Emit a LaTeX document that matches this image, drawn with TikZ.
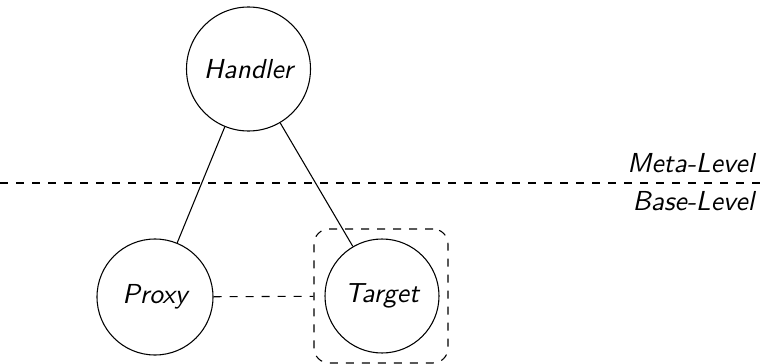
\documentclass[tikz,border=0pt]{standalone}
\usepackage{fontspec}
\begin{document}
\begin{tikzpicture}[x=0.375pt,y=-0.375pt,
  every node/.style={font=\fontsize{10.3}{12}\selectfont\sffamily\itshape},
  agent/.style={draw,circle,inner sep=0pt},
  levellabel/.style={anchor=base east,inner sep=0pt},
  sep/.style={dashed}]
\useasboundingbox (0,0) rectangle (764,364);
\node[agent,minimum size=46.5pt] (handler) at (248.5,69) {Handler};
\node[agent,minimum size=43.5pt] (proxy) at (155,297) {Proxy};
\node[agent,minimum size=42.75pt] (target) at (382,296) {Target};
\node[draw,dashed,rounded corners=5.6pt,minimum width=50.25pt,minimum height=50.25pt,inner sep=0pt] (box) at (381,296) {};
\coordinate (ll) at (0,183);
\coordinate (lr) at (764,183);
\draw[sep] (ll) -- (lr);
\node[levellabel] (meta) at (755,172) {Meta-Level};
\node[levellabel] (base) at (755,210) {Base-Level};
\draw (handler) -- (proxy);
\draw (handler) -- (target);
\draw[dashed] (proxy) -- (box);
\end{tikzpicture}
\end{document}
